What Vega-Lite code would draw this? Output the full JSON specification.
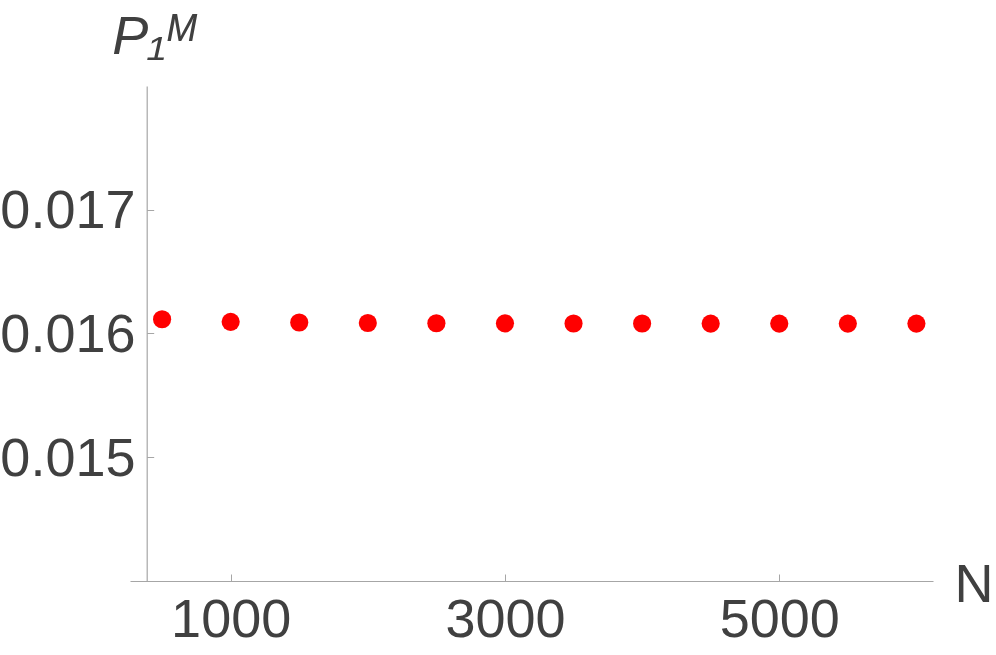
{
  "$schema": "https://vega.github.io/schema/vega-lite/v6.json",
  "width": 803,
  "height": 495,
  "autosize": {"type": "none"},
  "padding": {"left": 130, "top": 86, "right": 63, "bottom": 74},
  "background": "white",
  "config": {
    "view": {"stroke": null},
    "font": "Liberation Sans"
  },
  "data": {
    "values": [
      {"N": 500, "P": 0.016115},
      {"N": 1000, "P": 0.016094},
      {"N": 1500, "P": 0.016089},
      {"N": 2000, "P": 0.016085},
      {"N": 2500, "P": 0.016083},
      {"N": 3000, "P": 0.016082},
      {"N": 3500, "P": 0.016081},
      {"N": 4000, "P": 0.016081},
      {"N": 4500, "P": 0.01608},
      {"N": 5000, "P": 0.01608},
      {"N": 5500, "P": 0.01608},
      {"N": 6000, "P": 0.01608}
    ]
  },
  "mark": {"type": "circle", "color": "#ff0000", "opacity": 1, "size": 330},
  "encoding": {
    "x": {
      "field": "N",
      "type": "quantitative",
      "scale": {"domain": [266, 6121], "nice": false, "zero": false},
      "axis": {
        "values": [1000, 3000, 5000],
        "format": "d",
        "grid": false,
        "domainColor": "#a6a6a6",
        "domainWidth": 1.2,
        "tickColor": "#a6a6a6",
        "tickSize": -7,
        "tickWidth": 1,
        "labelFontSize": 54,
        "labelColor": "#404040",
        "labelPadding": 19,
        "labelFlush": false,
        "labelOverlap": false,
        "title": "N",
        "titleFontSize": 54,
        "titleFontWeight": "normal",
        "titleColor": "#404040",
        "titleAlign": "left",
        "titleBaseline": "alphabetic",
        "titleAnchor": "start",
        "titleX": 824,
        "titleY": 20
      }
    },
    "y": {
      "field": "P",
      "type": "quantitative",
      "scale": {"domain": [0.014, 0.018], "nice": false, "zero": false},
      "axis": {
        "values": [0.015, 0.016, 0.017],
        "format": ".3f",
        "grid": false,
        "offset": -16.7,
        "domainColor": "#a6a6a6",
        "domainWidth": 1.2,
        "tickColor": "#a6a6a6",
        "tickSize": -7,
        "tickWidth": 1,
        "labelFontSize": 54,
        "labelColor": "#404040",
        "labelPadding": 18.7,
        "labelOffset": 2,
        "labelFlush": false,
        "labelOverlap": false,
        "title": "P₁ᴹ",
        "titleFontSize": 54,
        "titleFontStyle": "italic",
        "titleFontWeight": "normal",
        "titleColor": "#404040",
        "titleAngle": 0,
        "titleAlign": "left",
        "titleBaseline": "alphabetic",
        "titleX": -35,
        "titleY": -33
      }
    }
  }
}
